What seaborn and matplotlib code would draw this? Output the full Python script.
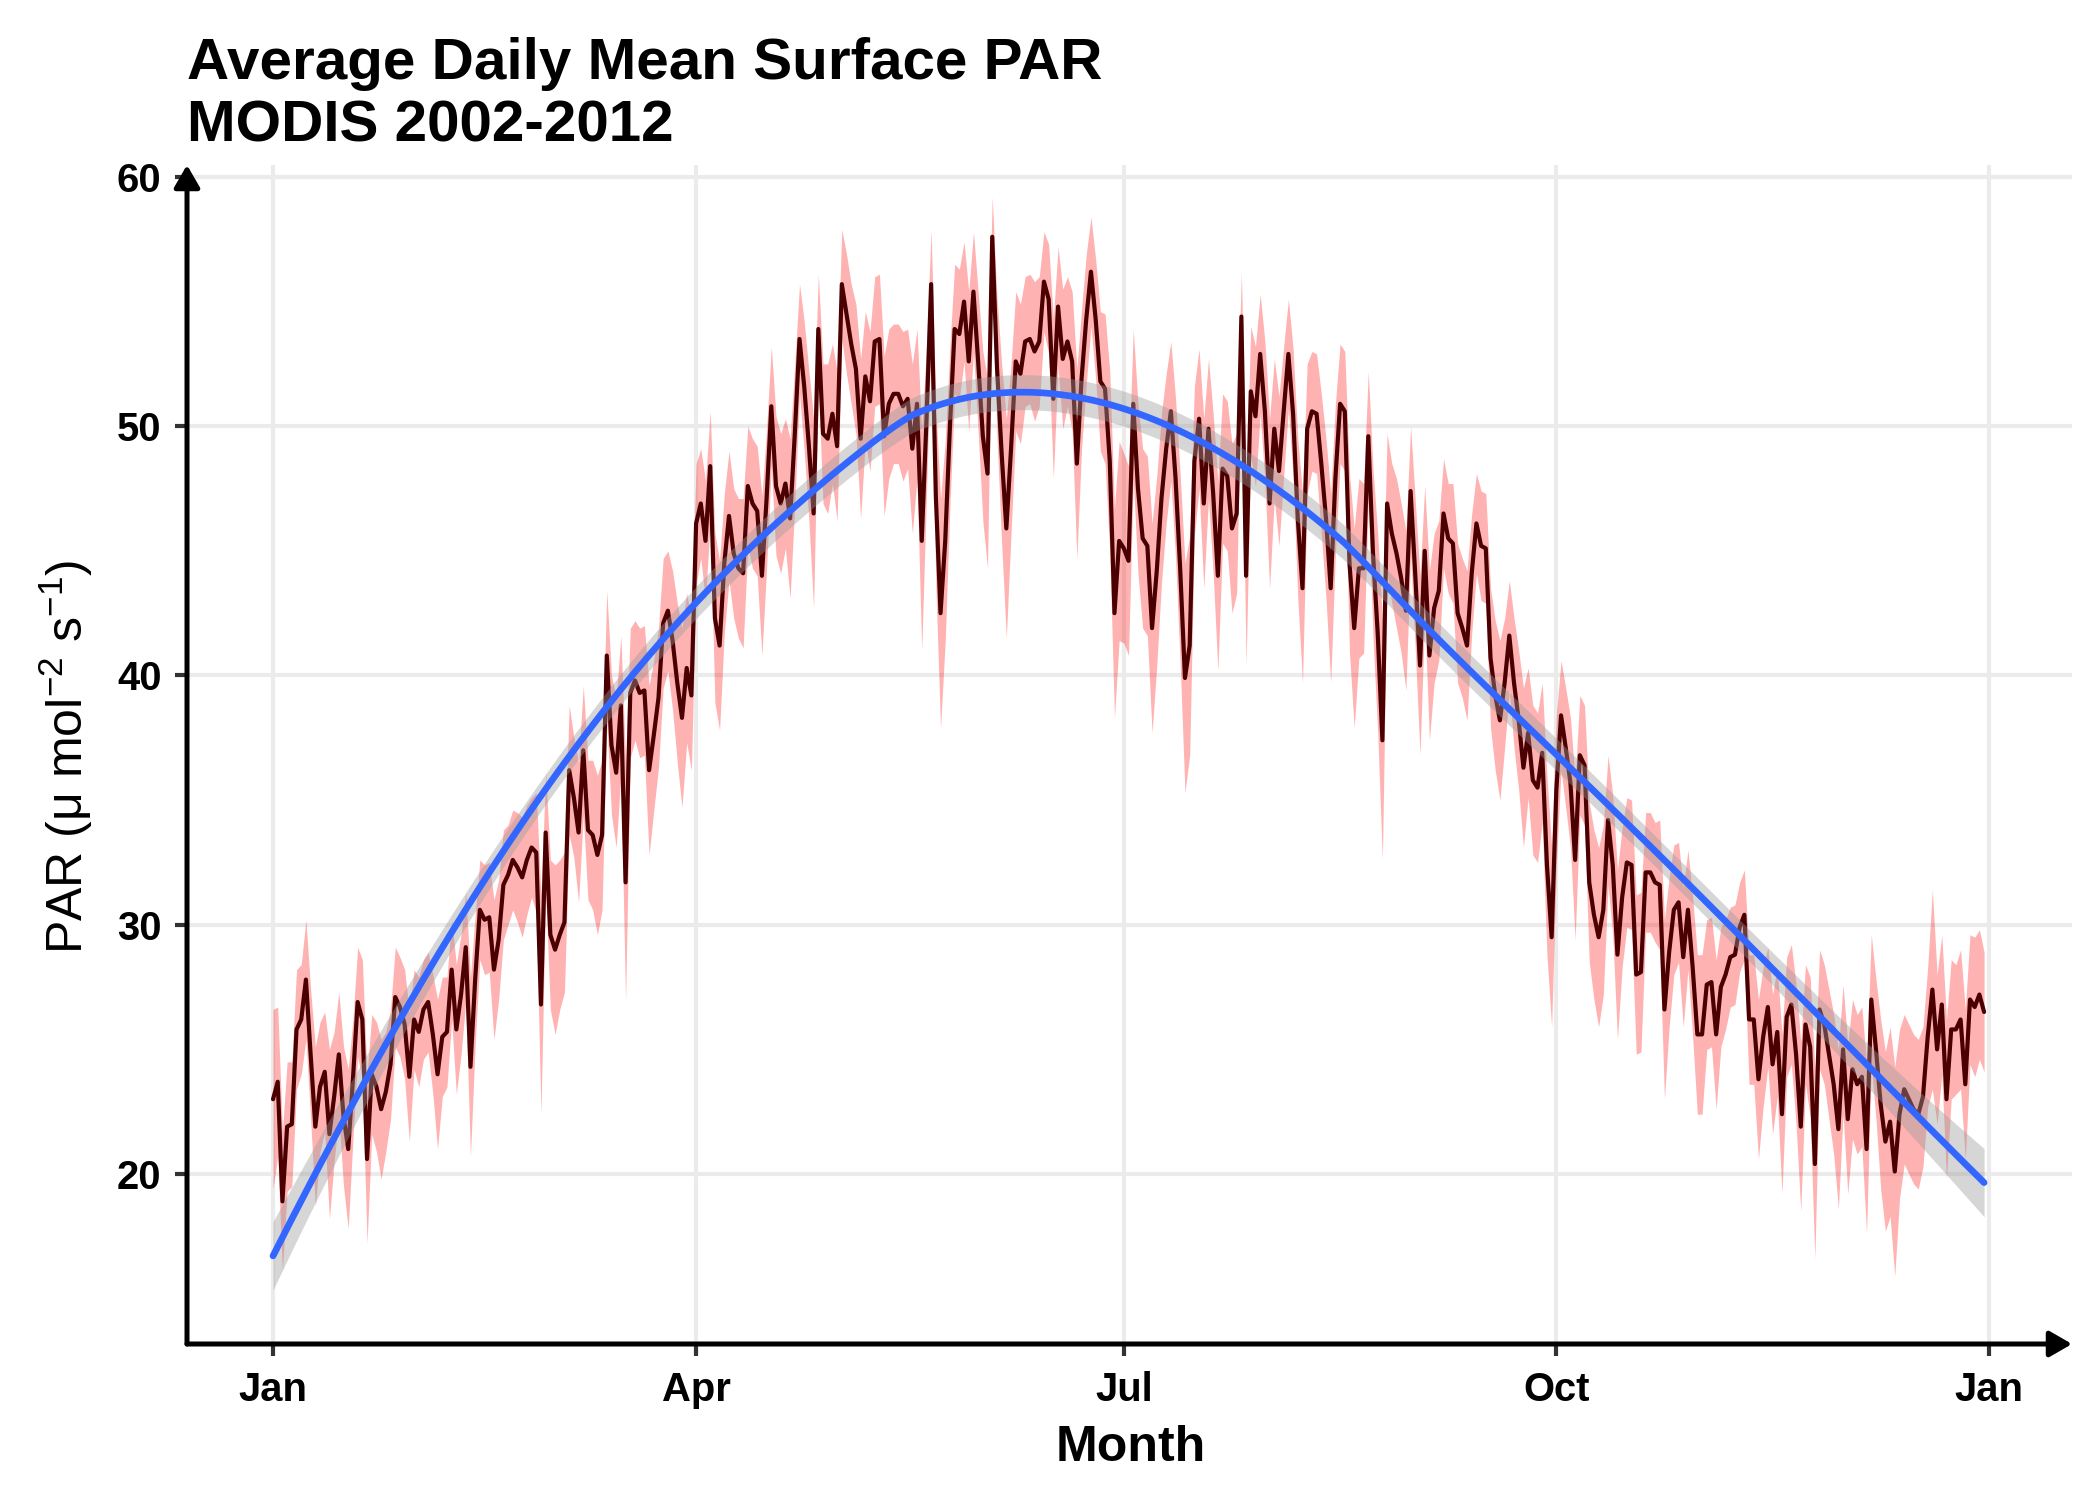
import numpy as np
import pandas as pd
import matplotlib
matplotlib.use("Agg")
import matplotlib.pyplot as plt
import seaborn as sns

# --- daily mean surface PAR (day 0 = 1 Jan) ---
par_mean = [
    23.0, 23.7, 18.9, 21.9, 22.0, 25.8, 26.2, 27.8, 24.8, 21.9,   # 0
    23.5, 24.1, 21.6, 23.1, 24.8, 22.3, 21.0, 23.8, 26.9, 26.2,   # 10
    20.6, 24.0, 23.5, 22.6, 23.3, 24.4, 27.1, 26.7, 26.0, 23.9,   # 20
    26.2, 25.7, 26.6, 26.9, 25.6, 24.0, 25.5, 25.7, 28.2, 25.8,   # 30
    27.2, 29.1, 24.3, 27.8, 30.6, 30.2, 30.3, 28.2, 29.4, 31.6,   # 40
    32.0, 32.6, 32.3, 31.9, 32.6, 33.1, 32.9, 26.8, 33.7, 29.6,   # 50
    29.0, 29.6, 30.1, 36.2, 35.1, 33.7, 37.0, 33.8, 33.6, 32.8,   # 60
    33.6, 40.8, 37.2, 36.1, 38.8, 31.7, 39.3, 39.8, 39.3, 39.4,   # 70
    36.2, 37.6, 39.1, 42.1, 42.6, 41.4, 39.7, 38.3, 40.3, 39.2,   # 80
    46.1, 46.9, 45.4, 48.4, 42.3, 41.2, 44.5, 46.4, 44.9, 44.3,   # 90
    44.1, 47.6, 46.9, 46.6, 44.0, 47.1, 50.8, 47.6, 46.9, 47.7,   # 100
    46.3, 49.7, 53.5, 51.6, 49.2, 46.5, 53.9, 49.7, 49.5, 50.5,   # 110
    49.2, 55.7, 54.5, 53.3, 52.3, 49.5, 52.0, 51.0, 53.4, 53.5,   # 120
    49.6, 50.9, 51.3, 51.3, 50.8, 51.1, 49.1, 50.9, 45.4, 50.2,   # 130
    55.7, 47.2, 42.5, 45.4, 50.0, 53.9, 53.7, 55.0, 52.6, 55.4,   # 140
    52.6, 49.6, 48.1, 57.6, 52.4, 48.9, 45.9, 49.1, 52.6, 52.1,   # 150
    53.4, 53.5, 53.0, 53.4, 55.8, 55.1, 51.1, 54.8, 52.7, 53.4,   # 160
    52.6, 48.5, 51.9, 54.3, 56.2, 54.3, 51.8, 51.5, 48.6, 42.5,   # 170
    45.4, 45.1, 44.6, 50.9, 47.5, 45.5, 45.2, 41.9, 44.2, 47.1,   # 180
    49.1, 50.6, 47.9, 44.2, 39.9, 41.2, 48.6, 50.3, 46.9, 49.9,   # 190
    47.3, 44.0, 48.3, 48.0, 45.9, 46.5, 54.4, 44.0, 51.4, 50.4,   # 200
    52.9, 50.6, 46.9, 49.9, 48.2, 50.6, 52.9, 50.5, 46.3, 43.5,   # 210
    49.9, 50.6, 50.5, 48.5, 46.3, 43.5, 47.9, 50.9, 50.6, 44.5,   # 220
    41.9, 44.3, 44.3, 49.6, 44.9, 41.7, 37.4, 46.9, 45.7, 44.9,   # 230
    43.9, 42.6, 47.4, 44.0, 40.4, 45.0, 40.8, 42.7, 43.4, 46.5,   # 240
    45.5, 45.3, 42.5, 41.9, 41.2, 44.1, 46.1, 45.2, 45.1, 40.7,   # 250
    39.2, 38.2, 39.7, 41.6, 39.7, 38.2, 36.3, 37.7, 35.8, 35.5,   # 260
    36.9, 32.4, 29.5, 35.4, 38.4, 37.1, 35.7, 32.6, 36.8, 36.4,   # 270
    31.7, 30.4, 29.5, 30.6, 34.2, 32.4, 28.8, 31.1, 32.5, 32.4,   # 280
    28.0, 28.1, 32.1, 32.1, 31.7, 31.6, 26.6, 28.9, 30.6, 30.9,   # 290
    28.7, 30.6, 28.3, 25.6, 25.6, 27.6, 27.7, 25.6, 27.5, 28.0,   # 300
    28.7, 28.8, 29.9, 30.4, 26.2, 26.2, 23.8, 25.5, 26.7, 24.4,   # 310
    25.7, 22.4, 26.3, 26.8, 24.8, 21.9, 26.0, 25.1, 20.4, 26.6,   # 320
    26.0, 24.8, 23.6, 21.8, 25.0, 22.2, 24.2, 23.6, 23.9, 21.0,   # 330
    27.0, 25.0, 22.8, 21.3, 22.1, 20.1, 22.4, 23.4, 23.0, 22.6,   # 340
    22.4, 23.1, 25.5, 27.4, 25.0, 26.8, 23.0, 25.8, 25.8, 26.2,   # 350
    23.6, 27.0, 26.7, 27.2, 26.5,                                 # 360
]

# half-width of the pink ribbon around the daily mean (estimated)
par_spread = [
    3.6, 3.0, 2.8, 2.6, 2.5, 2.4, 2.2, 2.4, 2.6, 3.2,
    2.6, 2.4, 3.4, 2.6, 2.5, 2.8, 3.2, 2.4, 2.2, 2.4,
    3.4, 2.4, 2.6, 2.8, 2.4, 2.2, 2.0, 2.0, 2.2, 2.6,
    2.0, 2.2, 2.0, 2.0, 2.4, 3.0, 2.4, 2.2, 2.0, 2.6,
    2.4, 2.2, 3.6, 2.6, 2.0, 2.2, 2.2, 2.8, 2.4, 2.2,
    2.0, 2.0, 2.2, 2.4, 2.2, 2.0, 2.4, 4.4, 2.4, 3.0,
    3.4, 3.0, 2.8, 2.6, 2.4, 2.8, 2.6, 2.8, 3.0, 3.2,
    3.0, 2.6, 2.8, 3.0, 2.8, 4.8, 2.6, 2.4, 2.6, 2.6,
    3.4, 3.0, 2.8, 2.6, 2.4, 2.8, 3.2, 3.6, 3.0, 3.0,
    2.4, 2.2, 2.4, 2.2, 3.4, 3.4, 2.8, 2.6, 2.6, 2.8,
    3.0, 2.4, 2.6, 2.6, 3.2, 2.8, 2.4, 2.8, 2.8, 2.6,
    3.2, 2.8, 2.2, 2.6, 3.0, 3.8, 2.2, 2.8, 3.0, 2.8,
    3.0, 2.2, 2.4, 2.4, 2.6, 3.2, 2.6, 2.8, 2.6, 2.6,
    3.2, 3.0, 2.8, 2.8, 3.0, 2.8, 3.4, 3.0, 4.4, 3.0,
    2.2, 3.6, 4.6, 4.0, 3.2, 2.6, 2.6, 2.4, 2.8, 2.4,
    2.8, 3.4, 3.8, 1.6, 2.8, 3.6, 4.4, 3.4, 2.8, 2.8,
    2.6, 2.6, 2.8, 2.6, 2.0, 2.2, 3.2, 2.4, 2.8, 2.6,
    2.8, 3.8, 2.8, 2.6, 2.2, 2.4, 2.8, 3.0, 3.6, 4.2,
    4.0, 3.8, 3.8, 3.0, 3.4, 3.6, 3.6, 4.2, 3.8, 3.4,
    3.0, 2.8, 3.2, 3.8, 4.6, 4.4, 3.0, 2.8, 3.4, 2.8,
    3.2, 3.8, 3.0, 3.0, 3.4, 3.2, 1.8, 3.6, 2.6, 2.8,
    2.4, 2.8, 3.4, 2.8, 3.0, 2.6, 2.2, 2.6, 3.2, 3.8,
    2.6, 2.4, 2.4, 2.8, 3.2, 3.8, 3.0, 2.4, 2.4, 3.6,
    4.0, 3.6, 3.4, 2.6, 3.4, 4.0, 4.8, 2.8, 2.8, 3.0,
    3.0, 3.2, 2.6, 3.0, 3.6, 2.6, 3.4, 3.0, 2.8, 2.2,
    2.2, 2.4, 2.8, 2.8, 3.0, 2.4, 2.0, 2.2, 2.2, 2.8,
    3.0, 3.2, 2.6, 2.2, 2.6, 2.8, 3.2, 2.6, 3.0, 3.0,
    2.8, 3.6, 3.6, 3.0, 2.2, 2.4, 2.6, 3.2, 2.4, 2.4,
    3.2, 3.4, 3.6, 3.4, 2.6, 2.8, 3.4, 2.8, 2.6, 2.6,
    3.2, 3.2, 2.4, 2.4, 2.4, 2.6, 3.6, 3.0, 2.6, 2.4,
    2.8, 2.4, 2.8, 3.2, 3.2, 2.6, 2.6, 3.0, 2.4, 2.2,
    2.0, 2.0, 1.8, 1.8, 2.6, 2.6, 3.2, 2.8, 2.4, 2.8,
    2.6, 3.2, 2.4, 2.4, 2.8, 3.4, 2.4, 2.8, 3.8, 2.4,
    2.4, 2.6, 2.8, 3.2, 2.6, 3.0, 2.8, 2.8, 2.8, 3.4,
    2.6, 2.8, 3.4, 3.6, 3.8, 4.2, 3.4, 3.0, 3.0, 3.0,
    3.0, 2.8, 2.8, 4.0, 3.0, 2.8, 3.2, 2.8, 2.6, 2.8,
    3.0, 2.6, 2.8, 2.6, 2.4,
]

title_lines = ["Average Daily Mean Surface PAR", "MODIS 2002-2012"]
y_ticks = [20, 30, 40, 50, 60]

assert len(par_mean) == len(par_spread) == 365

start = pd.Timestamp("2002-01-01")
dates = pd.date_range(start, periods=len(par_mean), freq="D")
df = pd.DataFrame({"date": dates, "par": par_mean, "spread": par_spread})
df["day"] = (df["date"] - start).dt.days.astype(float)
df["lo"] = df["par"] - df["spread"]
df["hi"] = df["par"] + df["spread"]

# quarter-start ticks: Jan, Apr, Jul, Oct, Jan
tick_dates = pd.date_range("2002-01-01", "2003-01-01", freq="QS")
tick_pos = (tick_dates - start).days.values
tick_lab = list(tick_dates.strftime("%b"))


# --- loess (local quadratic, tricube, span 0.75) like geom_smooth ---
def loess_fit(x, y, span=0.75):
    n = len(x)
    q = int(np.floor(n * span))
    L = np.zeros((n, n))
    for i, x0 in enumerate(x):
        d = np.abs(x - x0)
        h = np.sort(d)[q - 1]
        w = np.clip(1 - (d / h) ** 3, 0, None) ** 3
        X = np.column_stack([np.ones(n), x - x0, (x - x0) ** 2])
        XtW = X.T * w
        L[i] = np.linalg.solve(XtW @ X, XtW)[0]
    fit = L @ y
    res = y - fit
    IL = np.eye(n) - L
    delta1 = np.trace(IL.T @ IL)
    sigma = np.sqrt(res @ res / delta1)
    se = sigma * np.sqrt((L ** 2).sum(axis=1))
    return fit, se


fit, se = loess_fit(df["day"].values, df["par"].values)
df["fit"] = fit
df["fit_lo"] = fit - 1.967 * se
df["fit_hi"] = fit + 1.967 * se

# --- styling ---
sns.set_theme(style="whitegrid")
plt.rcParams["font.family"] = ["Liberation Sans", "DejaVu Sans"]
plt.rcParams["mathtext.fontset"] = "custom"
plt.rcParams["mathtext.rm"] = "Liberation Sans"
plt.rcParams["mathtext.it"] = "Liberation Sans:italic"
plt.rcParams["mathtext.bf"] = "Liberation Sans:bold"
plt.rcParams["text.color"] = "black"

W, H = 2100, 1500
fig = plt.figure(figsize=(7, 5), dpi=300)
ax = fig.add_axes([187 / W, 1 - 1344 / H, (2072 - 187) / W, (1344 - 165) / H])
ax.set_facecolor("white")

ax.fill_between(df["day"], df["lo"], df["hi"], color="#ff0000", alpha=0.3,
                linewidth=0, zorder=2)
sns.lineplot(data=df, x="day", y="par", color="#4a0000", linewidth=1.0,
             errorbar=None, ax=ax, zorder=3)
ax.fill_between(df["day"], df["fit_lo"], df["fit_hi"], color="#999999",
                alpha=0.4, linewidth=0, zorder=4)
sns.lineplot(data=df, x="day", y="fit", color="#3366ff", linewidth=1.6,
             errorbar=None, ax=ax, zorder=5)

ax.set_xlim(-18.3, 382.7)
ax.set_ylim(13.18, 60.48)
ax.set_xticks(tick_pos)
ax.set_xticklabels(tick_lab)
ax.set_yticks(y_ticks)
ax.grid(True, color="#ebebeb", linewidth=1.0, zorder=0)
ax.set_axisbelow(True)
for s in ax.spines.values():
    s.set_visible(False)
ax.tick_params(axis="both", which="major", length=2.9, width=1.0,
               color="#333333", labelsize=9.6, labelcolor="black",
               bottom=True, left=True)
ax.tick_params(axis="x", pad=3.5)
ax.tick_params(axis="y", pad=3.2)
for lab in ax.get_xticklabels() + ax.get_yticklabels():
    lab.set_fontweight("bold")
ax.set_xlabel("")
ax.set_ylabel("")

# axis lines with arrow heads
arrow = dict(arrowstyle="-|>,head_length=0.45,head_width=0.26", color="black",
             lw=1.2, shrinkA=0, shrinkB=0, mutation_scale=10)
ax.annotate("", xy=(1, 0), xytext=(0, 0), xycoords="axes fraction",
            textcoords="axes fraction", arrowprops=arrow, annotation_clip=False)
ax.annotate("", xy=(0, 1), xytext=(0, 0), xycoords="axes fraction",
            textcoords="axes fraction", arrowprops=arrow, annotation_clip=False)

# two-line bold title, baselines as in the reference
for line, base in zip(title_lines, [79, 142]):
    fig.text(187 / W, 1 - base / H, line, ha="left", va="baseline",
             fontsize=14.0, fontweight="bold", color="black")
fig.text(1131 / W, 1 - 1461 / H, "Month", ha="center", va="baseline",
         fontsize=12, fontweight="bold", color="black")
fig.text(66 / W, 1 - 757 / H, r"PAR (μ mol$^{-2}$ s$^{-1}$)",
         rotation=90, ha="center", va="center", fontsize=12, color="black")

fig.savefig("out.png", dpi=300, facecolor="white")
